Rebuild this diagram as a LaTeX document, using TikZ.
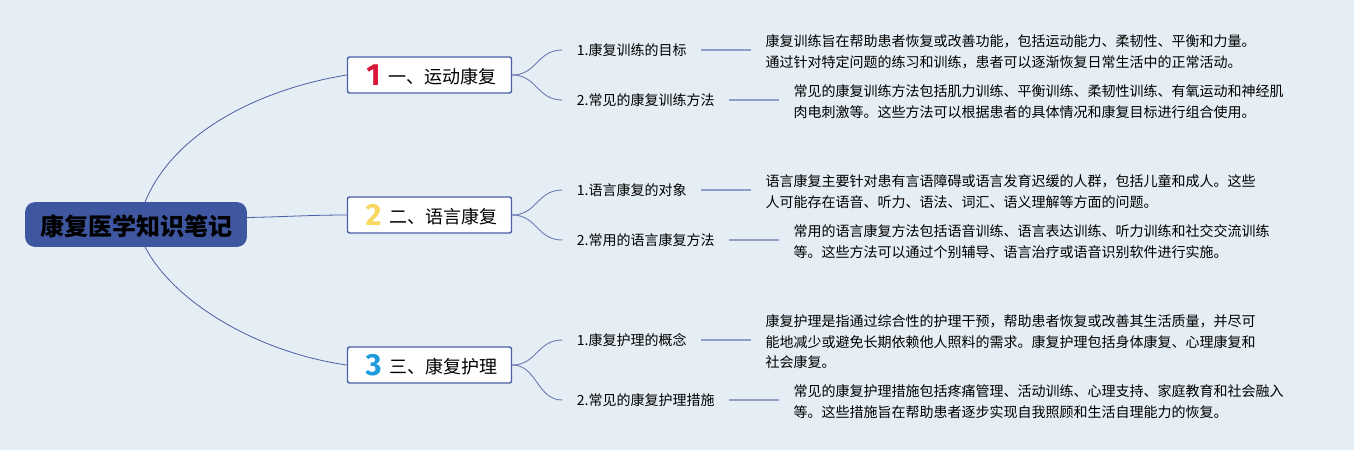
\documentclass[tikz,border=0pt]{standalone}
\usepackage{fontspec}
\usepackage{xcolor}
\setmainfont{Noto Sans CJK SC}
\newfontfamily\digitfont{Fira Sans}
\usetikzlibrary{positioning,calc}
\definecolor{bgcol}{HTML}{E5EEF4}
\definecolor{rootcol}{HTML}{3F56A1}
\definecolor{edgecol}{HTML}{4A5FA5}
\definecolor{leafcol}{HTML}{8F9FC9}
\definecolor{numred}{HTML}{D9163A}
\definecolor{numyel}{HTML}{F6D85E}
\definecolor{numblu}{HTML}{1E9BDC}
\newcommand{\numbadge}[2]{\hspace*{3pt}\smash{\raisebox{-1.5pt}{\digitfont\bfseries\fontsize{23}{23}\selectfont\textcolor{#1}{#2}}}\hspace*{3pt}}

\begin{document}
\begin{tikzpicture}[x=0.75pt,y=-0.75pt,
  rootnode/.style={rectangle,rounded corners=7pt,fill=rootcol,draw=rootcol,minimum width=165.75pt,minimum height=33pt,inner sep=0pt,text height=19pt,text depth=2.3pt,font=\fontsize{18}{18}\selectfont\bfseries},
  branch/.style={rectangle,rounded corners=1.6pt,fill=white,draw=edgecol,line width=1.1pt,minimum width=123pt,minimum height=27pt,inner sep=0pt,text height=14pt,text depth=2pt,font=\fontsize{13.5}{13.5}\selectfont},
  subnode/.style={inner xsep=10.75pt,inner ysep=0pt,text height=10pt,text depth=2pt,font=\fontsize{10.5}{15}\selectfont},
  detail/.style={inner xsep=10.75pt,inner ysep=0pt,align=left,yshift=-1.4pt,font=\fontsize{10.5}{15.4}\selectfont},
  mainedge/.style={draw=edgecol,line width=0.6pt},
  subedge/.style={draw=edgecol!80,line width=0.7pt},
  leafedge/.style={draw=leafcol,line width=1.1pt}]
\fill[bgcol] (0,0) rectangle (1354,450);
\node[rootnode] (root) at (136,224.5) {\hspace*{1.5pt}康复医学知识笔记};
\node[branch] (b1) at (429.5,75) {\numbadge{numred}{1} 一、运动康复};
\node[branch] (b2) at (429.5,215) {\numbadge{numyel}{2} 二、语言康复};
\node[branch] (b3) at (429.5,365) {\numbadge{numblu}{3} 三、康复护理};

% first group
\node[subnode,right=37.5pt of b1.east,yshift=18.75pt] (a1) {1.康复训练的目标};
\node[subnode,right=37.5pt of b1.east,yshift=-18.75pt] (a2) {2.常见的康复训练方法};
\node[detail,right=37.5pt of a1] (t1) {康复训练旨在帮助患者恢复或改善功能，包括运动能力、柔韧性、平衡和力量。\\通过针对特定问题的练习和训练，患者可以逐渐恢复日常生活中的正常活动。};
\node[detail,right=37.5pt of a2] (t2) {常见的康复训练方法包括肌力训练、平衡训练、柔韧性训练、有氧运动和神经肌\\肉电刺激等。这些方法可以根据患者的具体情况和康复目标进行组合使用。};

% second group
\node[subnode,right=37.5pt of b2.east,yshift=18.75pt] (c1) {1.语言康复的对象};
\node[subnode,right=37.5pt of b2.east,yshift=-18.75pt] (c2) {2.常用的语言康复方法};
\node[detail,right=37.5pt of c1] (t3) {语言康复主要针对患有言语障碍或语言发育迟缓的人群，包括儿童和成人。这些\\人可能存在语音、听力、语法、词汇、语义理解等方面的问题。};
\node[detail,right=37.5pt of c2] (t4) {常用的语言康复方法包括语音训练、语言表达训练、听力训练和社交交流训练\\等。这些方法可以通过个别辅导、语言治疗或语音识别软件进行实施。};

% third group
\node[subnode,right=37.5pt of b3.east,yshift=18.75pt] (d1) {1.康复护理的概念};
\node[subnode,right=37.5pt of b3.east,yshift=-26.25pt] (d2) {2.常见的康复护理措施};
\node[detail,right=37.5pt of d1] (t5) {康复护理是指通过综合性的护理干预，帮助患者恢复或改善其生活质量，并尽可\\能地减少或避免长期依赖他人照料的需求。康复护理包括身体康复、心理康复和\\社会康复。};
\node[detail,right=37.5pt of d2] (t6) {常见的康复护理措施包括疼痛管理、活动训练、心理支持、家庭教育和社会融入\\等。这些措施旨在帮助患者逐步实现自我照顾和生活自理能力的恢复。};

\draw[mainedge] ([xshift=6.75pt]root.north) .. controls (172,135) and (255,90) .. (b1.west);
\draw[mainedge] ([yshift=5.25pt]root.east) .. controls (280,217) and (310,215) .. (b2.west);
\draw[mainedge] ([xshift=6.75pt]root.south) .. controls (172,300) and (255,352) .. (b3.west);

\foreach \up/\lo/\br in {a1/a2/b1,c1/c2/b2,d1/d2/b3}{
  \draw[subedge] (\br.east) .. controls (537,0 |- \br.east) and (537,0 |- \up.west) .. (\up.west);
  \draw[subedge] (\br.east) .. controls (537,0 |- \br.east) and (537,0 |- \lo.west) .. (\lo.west);
}
\foreach \from/\to in {a1/t1,a2/t2,c1/t3,c2/t4,d1/t5,d2/t6}
  \draw[leafedge] (\from.east) -- (\from.east -| \to.west);
\end{tikzpicture}
\end{document}
